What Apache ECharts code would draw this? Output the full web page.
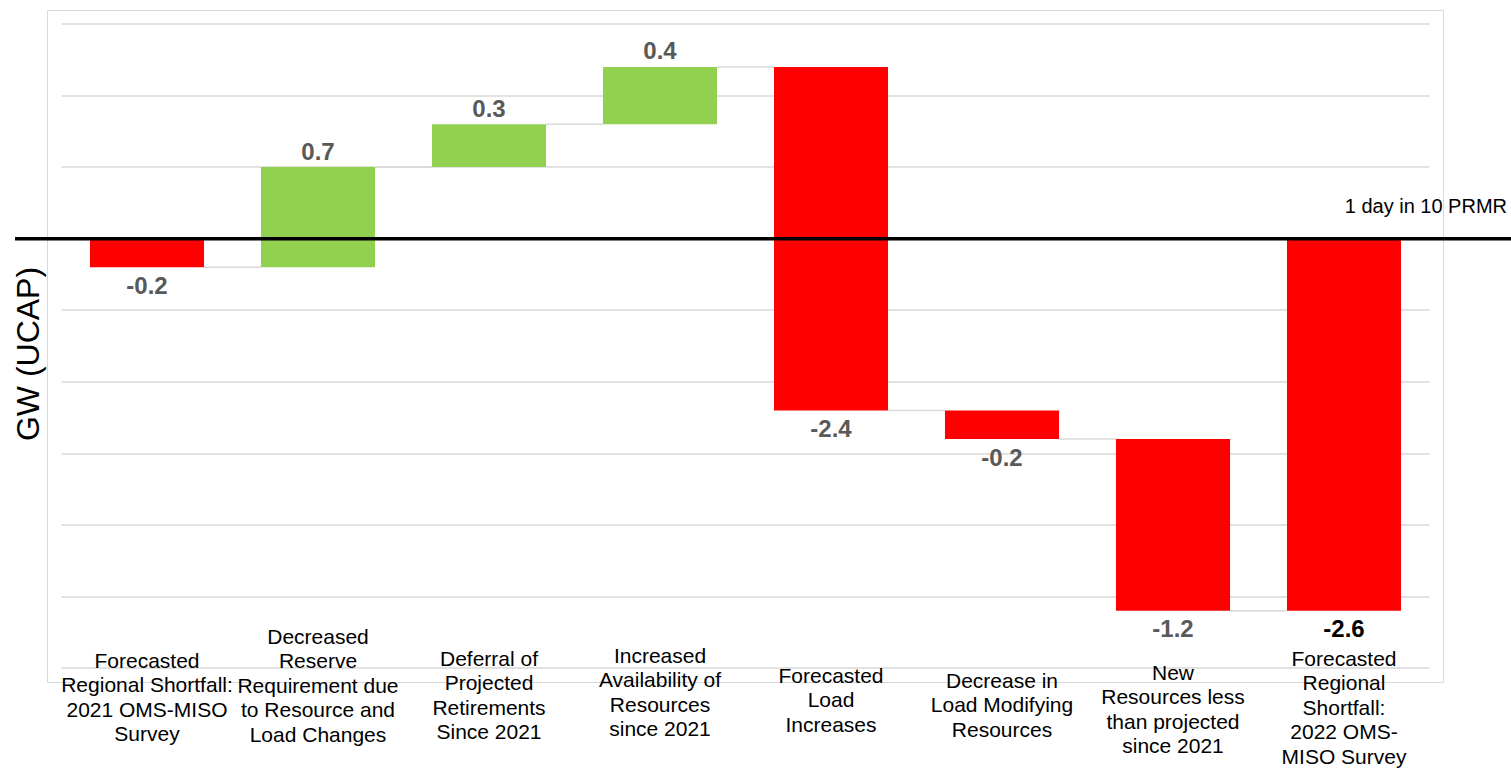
<!DOCTYPE html>
<html>
<head>
<meta charset="utf-8">
<script src="https://cdn.jsdelivr.net/npm/echarts@6/dist/echarts.min.js"></script>
<style>
html,body{margin:0;padding:0;background:#fff;}
#chart{width:1511px;height:770px;}
</style>
</head>
<body>
<div id="chart"></div>
<script>
// ---- data ----
const categories = [
  'Forecasted\nRegional Shortfall:\n2021 OMS-MISO\nSurvey',
  'Decreased\nReserve\nRequirement due\nto Resource and\nLoad Changes',
  'Deferral of\nProjected\nRetirements\nSince 2021',
  'Increased\nAvailability of\nResources\nsince 2021',
  'Forecasted\nLoad\nIncreases',
  'Decrease in\nLoad Modifying\nResources',
  'New\nResources less\nthan projected\nsince 2021',
  'Forecasted\nRegional\nShortfall:\n2022 OMS-\nMISO Survey'
];
const changes = [-0.2, 0.7, 0.3, 0.4, -2.4, -0.2, -1.2, -2.6];
const isTotal = [false, false, false, false, false, false, false, true];
const yTicks = { min: -3, max: 1.5, interval: 0.5 };
const referenceLineLabel = '1 day in 10 PRMR';
const yAxisTitle = 'GW (UCAP)';

// ---- layout (not data) ----
const labelPadTop = [24, 0, 22, 19, 39, 44, 36, 22];
const FONT = "Arial, 'Liberation Sans', sans-serif";
const GREEN = '#92D050', RED = '#FF0000', GRID = '#d9d9d9';

// build waterfall ranges
let running = 0;
const wfData = changes.map((v, i) => {
  let start, end;
  if (isTotal[i]) { start = 0; end = v; }
  else { start = running; end = running + v; }
  running = end;
  return [i, start, end, v, isTotal[i] ? 1 : 0];
});

const catData = categories.map((c, i) => ({
  value: c,
  textStyle: { padding: [labelPadTop[i], 0, 0, 0] }
}));

const chart = echarts.init(document.getElementById('chart'), null, { renderer: 'svg' });

const option = {
  animation: false,
  backgroundColor: '#fff',
  grid: { left: 61.5, right: 81.5, top: 24, bottom: 102, containLabel: false, outerBoundsMode: 'none' },
  xAxis: {
    type: 'category',
    data: catData,
    axisLine: { show: false },
    axisTick: { show: false },
    splitLine: { show: false },
    axisLabel: {
      interval: 0,
      margin: -44,
      color: '#000',
      fontFamily: FONT,
      fontSize: 21,
      lineHeight: 24.5,
      align: 'center'
    }
  },
  yAxis: {
    type: 'value',
    min: yTicks.min,
    max: yTicks.max,
    interval: yTicks.interval,
    axisLine: { show: false },
    axisTick: { show: false },
    axisLabel: { show: false },
    splitLine: { show: true, lineStyle: { color: GRID, width: 1.5 } },
    name: yAxisTitle,
    nameLocation: 'middle',
    nameRotate: 90,
    nameGap: 18,
    nameTextStyle: { fontFamily: FONT, fontSize: 32, color: '#000', padding: [0, 16, 0, 0] }
  },
  series: [{
    type: 'custom',
    data: wfData,
    encode: { x: 0, y: [1, 2] },
    renderItem: function (params, api) {
      const i = api.value(0);
      const start = api.value(1);
      const end = api.value(2);
      const v = api.value(3);
      const total = api.value(4) === 1;
      const p1 = api.coord([i, start]);
      const p2 = api.coord([i, end]);
      const band = api.size([1, 0])[0];
      const w = band * 0.667;
      const x = p1[0] - w / 2;
      const yTop = Math.min(p1[1], p2[1]);
      const yBot = Math.max(p1[1], p2[1]);
      const children = [{
        type: 'rect',
        shape: { x: x, y: yTop, width: w, height: yBot - yTop },
        style: { fill: v >= 0 ? GREEN : RED }
      }];
      if (i < categories.length - 1) {
        children.push({
          type: 'line',
          shape: { x1: p1[0] + w / 2, y1: p2[1], x2: p1[0] + band - w / 2, y2: p2[1] },
          style: { stroke: GRID, lineWidth: 1.5 }
        });
      }
      const ly = v >= 0 ? yTop - 16 : yBot + 18;
      children.push({
        type: 'text',
        x: p1[0], y: ly,
        style: {
          text: v.toFixed(1),
          fill: total ? '#000' : '#595959',
          font: 'bold 24px ' + FONT,
          align: 'center',
          verticalAlign: 'middle'
        }
      });
      return { type: 'group', children: children };
    },
    z: 3
  }]
};
chart.setOption(option);

const zeroY = chart.convertToPixel({ yAxisIndex: 0 }, 0);
chart.setOption({
  graphic: [
    {
      type: 'rect', z: 0, silent: true,
      shape: { x: 47.5, y: 10.5, width: 1396, height: 672 },
      style: { fill: 'none', stroke: GRID, lineWidth: 1 }
    },
    {
      type: 'line', z: 10, silent: true,
      shape: { x1: 15, y1: zeroY, x2: 1511, y2: zeroY },
      style: { stroke: '#000', lineWidth: 3.5 }
    },
    {
      type: 'text', z: 10, silent: true,
      x: 1507, y: zeroY - 33,
      style: {
        text: referenceLineLabel,
        font: '20px ' + FONT,
        fill: '#000',
        align: 'right',
        verticalAlign: 'middle'
      }
    }
  ]
});
</script>
</body>
</html>
